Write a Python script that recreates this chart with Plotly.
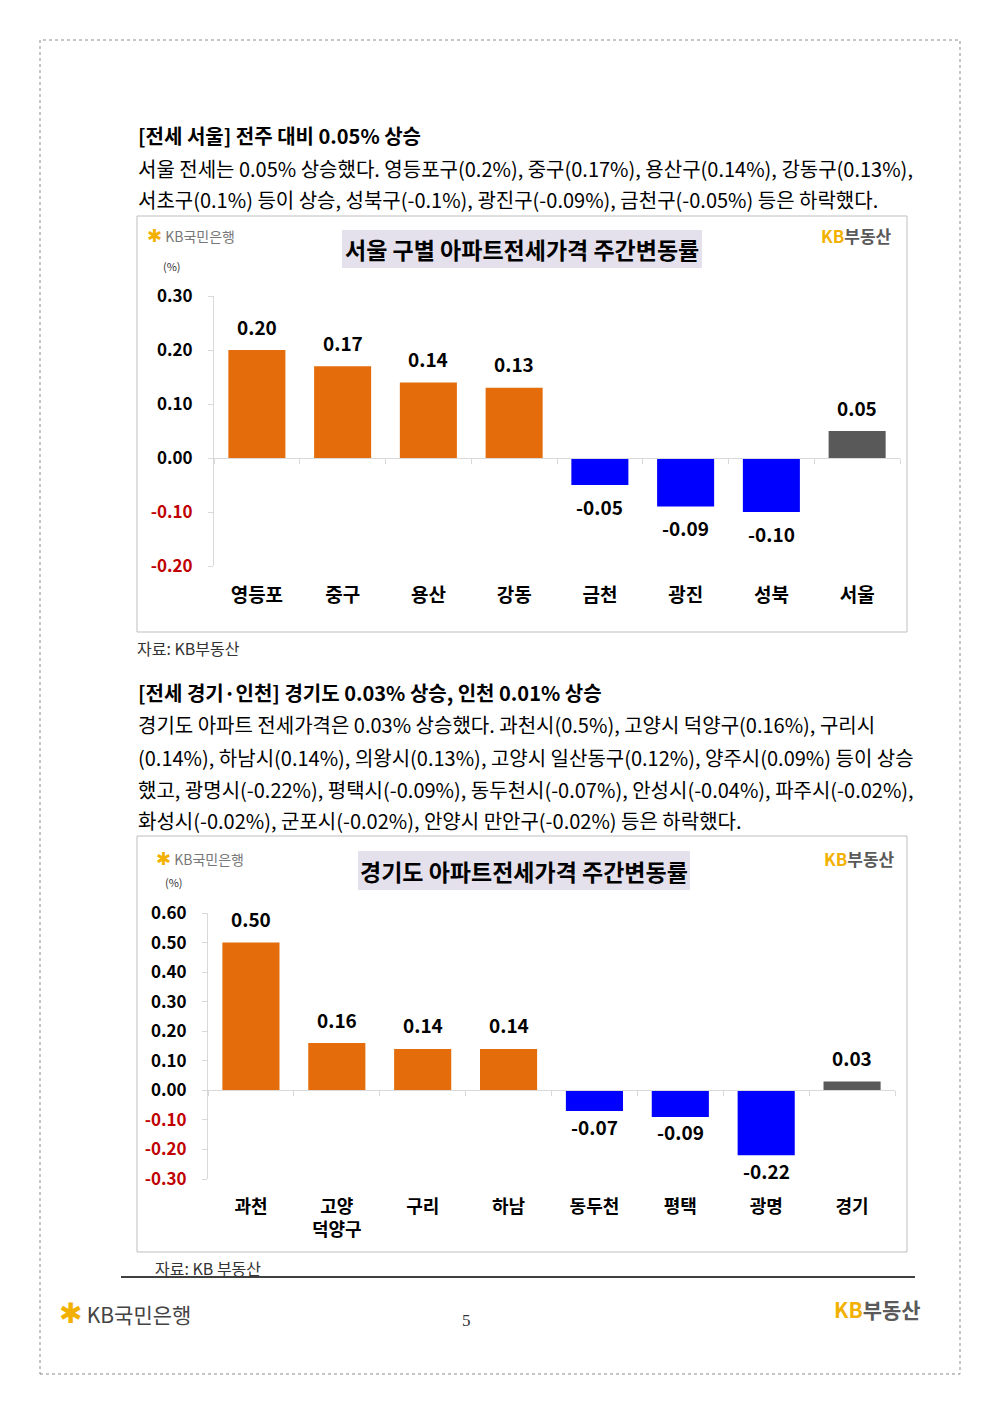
import plotly.graph_objects as go

# ---------------- data ----------------
seoul_cats = ["영등포", "중구", "용산", "강동", "금천", "광진", "성북", "서울"]
seoul_vals = [0.20, 0.17, 0.14, 0.13, -0.05, -0.09, -0.10, 0.05]
seoul_total = "서울"
seoul_yticks = [0.30, 0.20, 0.10, 0.00, -0.10, -0.20]

gg_cats = ["과천", "고양<br>덕양구", "구리", "하남", "동두천", "평택", "광명", "경기"]
gg_vals = [0.50, 0.16, 0.14, 0.14, -0.07, -0.09, -0.22, 0.03]
gg_total = "경기"
gg_yticks = [0.60, 0.50, 0.40, 0.30, 0.20, 0.10, 0.00, -0.10, -0.20, -0.30]

title1 = "서울 구별 아파트전세가격 주간변동률"
title2 = "경기도 아파트전세가격 주간변동률"

para1 = [
    ("<b>[전세 서울] 전주 대비 0.05% 상승</b>", 135),
    ("서울 전세는 0.05% 상승했다. 영등포구(0.2%), 중구(0.17%), 용산구(0.14%), 강동구(0.13%),", 168),
    ("서초구(0.1%) 등이 상승, 성북구(-0.1%), 광진구(-0.09%), 금천구(-0.05%) 등은 하락했다.", 199),
]
para2 = [
    ("<b>[전세 경기·인천] 경기도 0.03% 상승, 인천 0.01% 상승</b>", 692),
    ("경기도 아파트 전세가격은 0.03% 상승했다. 과천시(0.5%), 고양시 덕양구(0.16%), 구리시", 724),
    ("(0.14%), 하남시(0.14%), 의왕시(0.13%), 고양시 일산동구(0.12%), 양주시(0.09%) 등이 상승", 757),
    ("했고, 광명시(-0.22%), 평택시(-0.09%), 동두천시(-0.07%), 안성시(-0.04%), 파주시(-0.02%),", 789),
    ("화성시(-0.02%), 군포시(-0.02%), 안양시 만안구(-0.02%) 등은 하락했다.", 820),
]

# ---------------- styles ----------------
W, H = 1000, 1414
FONT = "Noto Sans CJK KR"
ORANGE = "#E46C0A"
BLUE = "#0000FF"
GRAY = "#595959"
NEG_RED = "#C00000"
AXIS = "#D9D9D9"
GOLD = "#F2B100"


def px(x):
    return x / W


def py(y):
    return 1 - y / H


def bar_colors(cats, vals, total):
    return [GRAY if c == total else (ORANGE if v >= 0 else BLUE) for c, v in zip(cats, vals)]


def tick_text(vals):
    out = []
    for v in vals:
        s = f"{v:.2f}"
        out.append(f"<span style='color:{NEG_RED}'>{s}</span>" if v < 0 else s)
    return out


fig = go.Figure()

charts = [
    dict(cats=seoul_cats, vals=seoul_vals, total=seoul_total, yt=seoul_yticks,
         xdom=(px(214), px(900)), ydom=(py(566), py(296)), xa="x", ya="y",
         standoff=120, tickfs=17, catfs=19, pos_shift=24, neg_shift=-21),
    dict(cats=gg_cats, vals=gg_vals, total=gg_total, yt=gg_yticks,
         xdom=(px(208), px(895)), ydom=(py(1179), py(913)), xa="x2", ya="y2",
         standoff=100, tickfs=17, catfs=18, pos_shift=24, neg_shift=-15),
]

annotations = []
layout_axes = {}
for i, c in enumerate(charts):
    fig.add_trace(go.Bar(
        x=c["cats"], y=c["vals"], xaxis=c["xa"], yaxis=c["ya"],
        marker=dict(color=bar_colors(c["cats"], c["vals"], c["total"]), line=dict(width=0)),
        hoverinfo="skip", showlegend=False,
    ))
    ymin, ymax = min(c["yt"]), max(c["yt"])
    zero_pos = c["ydom"][0] + (0 - ymin) / (ymax - ymin) * (c["ydom"][1] - c["ydom"][0])
    suffix = "" if i == 0 else "2"
    layout_axes["xaxis" + suffix] = dict(
        domain=list(c["xdom"]), anchor="free", position=zero_pos, type="category",
        showline=True, linecolor=AXIS, linewidth=1,
        ticks="outside", tickson="boundaries", ticklen=5, tickcolor=AXIS,
        showgrid=False, zeroline=False, automargin=False,
        tickfont=dict(family=FONT, size=c["catfs"], color="#000", weight="bold"),
        ticklabelstandoff=c["standoff"], fixedrange=True,
    )
    layout_axes["yaxis" + suffix] = dict(
        domain=list(c["ydom"]), anchor=c["xa"], range=[ymin, ymax],
        tickvals=c["yt"], ticktext=tick_text(c["yt"]),
        showline=True, linecolor=AXIS, linewidth=1,
        ticks="outside", ticklen=5, tickcolor=AXIS,
        showgrid=False, zeroline=False, automargin=False,
        tickfont=dict(family=FONT, size=c["tickfs"], color="#000", weight="bold"),
        ticklabelstandoff=12, fixedrange=True,
    )
    for cat, v in zip(c["cats"], c["vals"]):
        annotations.append(dict(
            x=cat, y=v, xref=c["xa"], yref=c["ya"], text=f"{v:.2f}", showarrow=False,
            yshift=c["pos_shift"] if v >= 0 else c["neg_shift"], xanchor="center", yanchor="middle",
            font=dict(family=FONT, size=19, color="#000", weight="bold"),
        ))

fig.update_layout(**layout_axes)

# ---------- text annotations ----------
def txt(x, y, text, size, color="#000", xanchor="left", family=FONT, bold=False):
    annotations.append(dict(
        x=px(x), y=py(y), xref="paper", yref="paper", text=text, showarrow=False,
        xanchor=xanchor, yanchor="middle",
        font=dict(family=family, size=size, color=color, weight="bold" if bold else "normal"),
    ))

for t, y in para1 + para2:
    txt(136, y, t, 20)

txt(135, 648, "자료: KB부동산", 16, color="#333")
txt(153, 1268, "자료: KB 부동산", 16, color="#333")

# chart titles
txt(522, 249, title1, 23, xanchor="center", bold=True)
txt(524, 871, title2, 23, xanchor="center", bold=True)

# % labels
txt(172, 266, "(%)", 11, xanchor="center", color="#333")
txt(174, 882, "(%)", 11, xanchor="center", color="#333")

# logos
def kb_bank(star_size):
    return f"<span style='color:{GOLD};font-size:{star_size}px'>✱</span> KB국민은행"

kb_land = f"<span style='color:{GOLD}'>KB</span><span style='color:#5A5A5A'>부동산</span>"
txt(145, 234, kb_bank(18), 14, color="#777")
txt(154, 857, kb_bank(18), 14, color="#777")
txt(894, 236, kb_land, 17, xanchor="right", bold=True)
txt(897, 858, kb_land, 17, xanchor="right", bold=True)

# footer
txt(57, 1311, kb_bank(28), 21, color="#444")
txt(923, 1309, kb_land, 21, xanchor="right", bold=True)
txt(466, 1320, "5", 17, xanchor="center", family="Liberation Serif", color="#333")

fig.update_layout(annotations=annotations)

# ---------- shapes ----------
shapes = [
    dict(type="rect", xref="paper", yref="paper", x0=px(40), x1=px(960), y0=py(1374), y1=py(40),
         line=dict(color="#8c8c8c", width=1, dash="dot"), layer="below"),
    dict(type="rect", xref="paper", yref="paper", x0=px(137), x1=px(907), y0=py(632), y1=py(216),
         line=dict(color="#BFBFBF", width=1), layer="below"),
    dict(type="rect", xref="paper", yref="paper", x0=px(342), x1=px(702), y0=py(268), y1=py(230),
         fillcolor="#E4E1EC", line=dict(width=0), layer="below"),
    dict(type="rect", xref="paper", yref="paper", x0=px(137), x1=px(907), y0=py(1252), y1=py(836),
         line=dict(color="#BFBFBF", width=1), layer="below"),
    dict(type="rect", xref="paper", yref="paper", x0=px(358), x1=px(690), y0=py(890), y1=py(851),
         fillcolor="#E4E1EC", line=dict(width=0), layer="below"),
    dict(type="line", xref="paper", yref="paper", x0=px(121), x1=px(915), y0=py(1277), y1=py(1277),
         line=dict(color="#000", width=1.5)),
]

fig.update_layout(
    shapes=shapes,
    width=W, height=H, autosize=False,
    margin=dict(l=0, r=0, t=0, b=0, pad=0, autoexpand=False),
    paper_bgcolor="white", plot_bgcolor="rgba(0,0,0,0)",
    bargap=0.335, showlegend=False,
    font=dict(family=FONT),
)

fig.write_html("out.html", config={"displayModeBar": False, "staticPlot": True},
               post_script="document.body.style.margin='0';")
